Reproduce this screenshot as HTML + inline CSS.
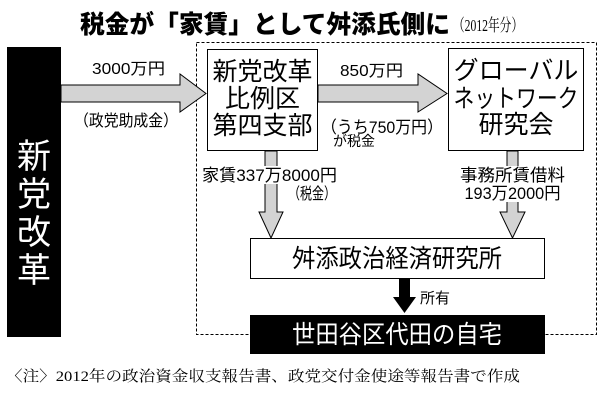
<!DOCTYPE html>
<html><head><meta charset="utf-8"><style>
html,body{margin:0;padding:0;background:#fff;}
svg{display:block;}
text{font-family:"Liberation Sans","Noto Sans CJK JP",sans-serif;fill:#000;}
.serif{font-family:"Liberation Serif","Noto Serif CJK SC",serif;}
</style></head><body>
<svg width="600" height="403" viewBox="0 0 600 403" xmlns="http://www.w3.org/2000/svg">
<rect width="600" height="403" fill="#fff"/>
<!-- title -->
<text x="80" y="33" font-size="25" font-weight="900" textLength="370" lengthAdjust="spacingAndGlyphs">税金が「家賃」として舛添氏側に</text>
<text class="serif" x="453" y="31" font-size="17" textLength="70" lengthAdjust="spacingAndGlyphs">（2012年分）</text>
<!-- dashed box -->
<rect x="196.5" y="42.5" width="400" height="292" fill="none" stroke="#000" stroke-dasharray="3,2"/>
<!-- left bar -->
<rect x="7" y="47" width="54" height="290" fill="#000"/>
<text x="34" y="168" font-size="34" text-anchor="middle" style="fill:#fff">新</text>
<text x="34" y="206" font-size="34" text-anchor="middle" style="fill:#fff">党</text>
<text x="34" y="244" font-size="34" text-anchor="middle" style="fill:#fff">改</text>
<text x="34" y="282" font-size="34" text-anchor="middle" style="fill:#fff">革</text>
<!-- arrow1 -->
<polygon points="61,85 180,85 180,74 206,93.5 180,112 180,102 61,102" fill="#d3d3d3" stroke="#000" stroke-width="1"/>
<text x="92" y="74" font-size="16" textLength="73" lengthAdjust="spacingAndGlyphs">3000万円</text>
<text x="74" y="126" font-size="16" textLength="104" lengthAdjust="spacingAndGlyphs">（政党助成金）</text>
<!-- box1 -->
<rect x="207.5" y="49.5" width="110" height="101" fill="#fff" stroke="#000"/>
<text x="262.5" y="80" font-size="25" text-anchor="middle">新党改革</text>
<text x="262.5" y="107" font-size="25" text-anchor="middle">比例区</text>
<text x="262.5" y="134" font-size="25" text-anchor="middle">第四支部</text>
<!-- arrow2 -->
<polygon points="318,85 418,85 418,74 447,93.5 418,112 418,102 318,102" fill="#d3d3d3" stroke="#000"/>
<text x="340" y="76" font-size="16" textLength="63" lengthAdjust="spacingAndGlyphs">850万円</text>
<text x="321" y="133" font-size="17" textLength="122" lengthAdjust="spacingAndGlyphs">（うち750万円）</text>
<text x="333" y="146" font-size="14">が税金</text>
<!-- box2 -->
<rect x="448.5" y="48.5" width="135" height="102" fill="#fff" stroke="#000"/>
<text x="516" y="79" font-size="25" text-anchor="middle">グローバル</text>
<text x="516" y="107" font-size="25" text-anchor="middle" textLength="125" lengthAdjust="spacingAndGlyphs">ネットワーク</text>
<text x="516" y="133" font-size="25" text-anchor="middle">研究会</text>
<!-- down arrows -->
<polygon points="265,151 277,151 277,212 283,212 271,238 259,212 265,212" fill="#d3d3d3" stroke="#000"/>
<polygon points="507,151 518,151 518,212 525,212 512.5,238 500,212 507,212" fill="#d3d3d3" stroke="#000"/>
<rect x="200" y="166" width="137" height="18" fill="#fff"/>
<text x="202" y="181" font-size="17" textLength="135" lengthAdjust="spacingAndGlyphs">家賃337万8000円</text>
<text x="288" y="199" font-size="16" textLength="48" lengthAdjust="spacingAndGlyphs">（税金）</text>
<rect x="460" y="166" width="106" height="36" fill="#fff"/>
<text x="512.5" y="181" font-size="17" text-anchor="middle" textLength="105" lengthAdjust="spacingAndGlyphs">事務所賃借料</text>
<text x="512.5" y="199" font-size="17" text-anchor="middle" textLength="96" lengthAdjust="spacingAndGlyphs">193万2000円</text>
<!-- box3 -->
<rect x="250.5" y="238.5" width="294" height="40" fill="#fff" stroke="#000"/>
<text x="397" y="267" font-size="25" text-anchor="middle" textLength="210" lengthAdjust="spacingAndGlyphs">舛添政治経済研究所</text>
<!-- black arrow -->
<polygon points="399,279 410,279 410,297 416,297 404.5,313 393,297 399,297" fill="#000"/>
<text x="420" y="303" font-size="15">所有</text>
<!-- black box -->
<rect x="250" y="315" width="295" height="39" fill="#000"/>
<text x="397" y="343" font-size="25" text-anchor="middle" style="fill:#fff" textLength="210" lengthAdjust="spacingAndGlyphs">世田谷区代田の自宅</text>
<!-- note -->
<text class="serif" x="6" y="381" font-size="15" textLength="514" lengthAdjust="spacingAndGlyphs">〈注〉2012年の政治資金収支報告書、政党交付金使途等報告書で作成</text>
</svg>
</body></html>
